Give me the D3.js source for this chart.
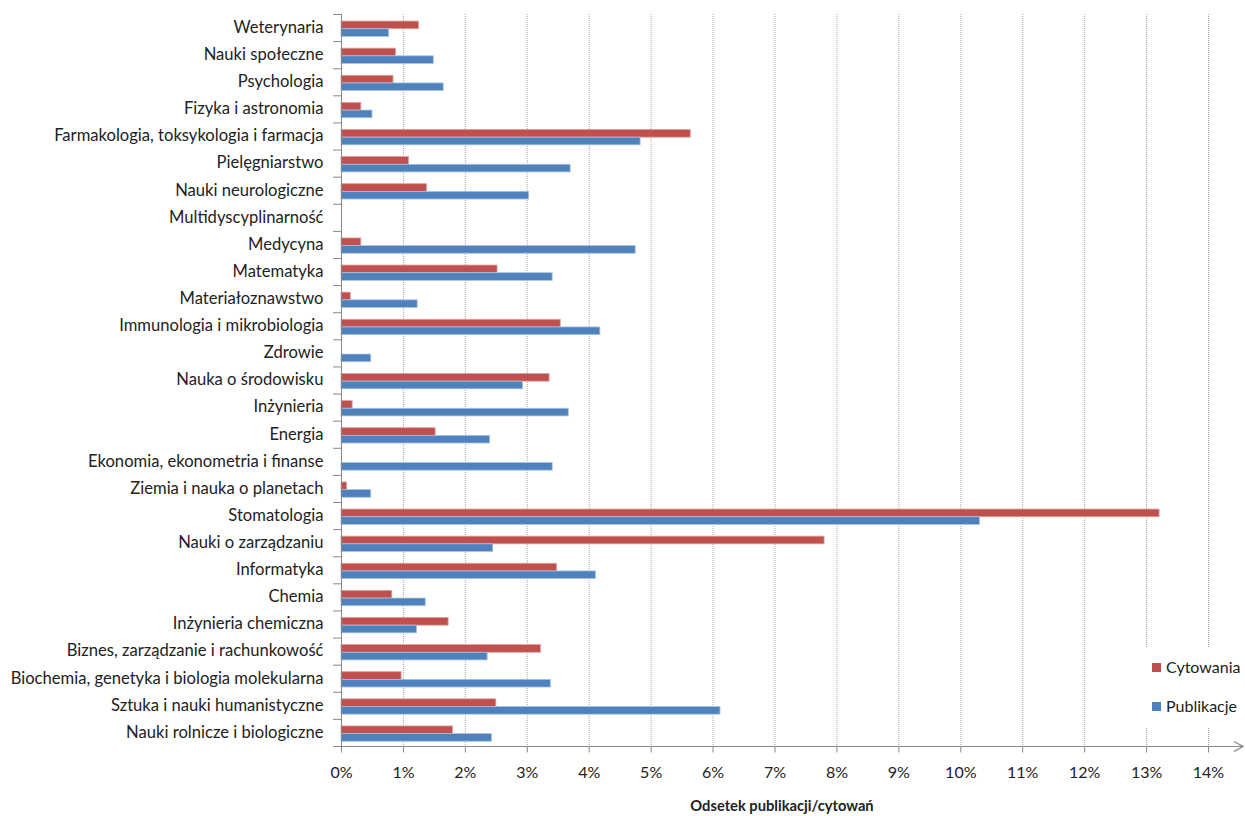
<!DOCTYPE html>
<html>
<head>
<meta charset="utf-8">
<script src="https://cdn.jsdelivr.net/npm/d3@7"></script>
<style>
  html, body { margin: 0; padding: 0; background: #fff; }
  svg { display: block; }
  text { font-family: Lato, "Open Sans", sans-serif; fill: #222; }
</style>
</head>
<body>
<svg id="chart" width="1245" height="816"></svg>
<script>
// Dziedziny nauki, od góry do dołu
const categories = [
  "Weterynaria",
  "Nauki społeczne",
  "Psychologia",
  "Fizyka i astronomia",
  "Farmakologia, toksykologia i farmacja",
  "Pielęgniarstwo",
  "Nauki neurologiczne",
  "Multidyscyplinarność",
  "Medycyna",
  "Matematyka",
  "Materiałoznawstwo",
  "Immunologia i mikrobiologia",
  "Zdrowie",
  "Nauka o środowisku",
  "Inżynieria",
  "Energia",
  "Ekonomia, ekonometria i finanse",
  "Ziemia i nauka o planetach",
  "Stomatologia",
  "Nauki o zarządzaniu",
  "Informatyka",
  "Chemia",
  "Inżynieria chemiczna",
  "Biznes, zarządzanie i rachunkowość",
  "Biochemia, genetyka i biologia molekularna",
  "Sztuka i nauki humanistyczne",
  "Nauki rolnicze i biologiczne"
];

// Odsetek cytowań (%)
const cytowania = [
  1.25, 0.88, 0.84, 0.32, 5.64, 1.09, 1.38, 0, 0.32, 2.52,
  0.15, 3.54, 0, 3.36, 0.18, 1.52, 0, 0.09, 13.21, 7.80,
  3.48, 0.82, 1.73, 3.22, 0.97, 2.50, 1.80
];

// Odsetek publikacji (%)
const publikacje = [
  0.77, 1.49, 1.65, 0.50, 4.83, 3.70, 3.03, 0, 4.75, 3.41,
  1.23, 4.18, 0.48, 2.93, 3.67, 2.40, 3.41, 0.48, 10.31, 2.45,
  4.11, 1.36, 1.22, 2.36, 3.38, 6.12, 2.43
];

const xTicks = d3.range(0, 15);
const seriesNames = ["Cytowania", "Publikacje"];
const seriesColors = ["#C0504D", "#4F81BD"];
const seriesStrokes = ["#DDA09E", "#A9C2E0"];

const svg = d3.select("#chart");
const plot = { left: 341, right: 1208, top: 14, bottom: 746 };

const x = d3.scaleLinear().domain([0, 14]).range([plot.left, plot.right]);
const y = d3.scaleBand().domain(categories).range([plot.top, plot.bottom]).paddingInner(0).paddingOuter(0);
const inner = d3.scaleBand().domain(seriesNames)
  .range([y.bandwidth() * 0.26, y.bandwidth() * 0.825]).paddingInner(0);

// Siatka pionowa (kropkowana)
svg.append("g")
  .selectAll("line")
  .data(xTicks.slice(1))
  .join("line")
  .attr("x1", d => x(d) + 0.5).attr("x2", d => x(d) + 0.5)
  .attr("y1", plot.top).attr("y2", plot.bottom)
  .attr("stroke", "#a6a6a6")
  .attr("stroke-width", 1)
  .attr("stroke-dasharray", "1,1");

// Słupki
const groups = svg.append("g")
  .selectAll("g")
  .data(categories.map((c, i) => ({ c, vals: [cytowania[i], publikacje[i]] })))
  .join("g")
  .attr("transform", d => `translate(0,${y(d.c)})`);

groups.selectAll("rect")
  .data(d => d.vals.map((v, k) => ({ v, k })).filter(e => e.v > 0))
  .join("rect")
  .attr("x", x(0))
  .attr("y", e => inner(seriesNames[e.k]))
  .attr("width", e => x(e.v) - x(0))
  .attr("height", inner.bandwidth())
  .attr("fill", e => seriesColors[e.k])
  .attr("stroke", e => seriesStrokes[e.k])
  .attr("stroke-width", 0.8);

// Oś Y z etykietami
const yAxis = d3.axisLeft(y).tickSize(0).tickPadding(18);
const gy = svg.append("g").attr("transform", `translate(${plot.left + 0.5},0)`).call(yAxis);
gy.select(".domain").attr("stroke", "#888").attr("d", `M0,${plot.top}V${plot.bottom + 6}`);
gy.selectAll("text").style("font-size", "16.6px").attr("fill", "#222");

// Znaczniki na osi Y na granicach kategorii
svg.append("g")
  .selectAll("line")
  .data(d3.range(categories.length + 1))
  .join("line")
  .attr("x1", plot.left - 8).attr("x2", plot.left)
  .attr("y1", i => plot.top + i * y.step() + 0.5)
  .attr("y2", i => plot.top + i * y.step() + 0.5)
  .attr("stroke", "#888");

// Oś X
const xAxis = d3.axisBottom(x).tickValues(xTicks).tickSize(6).tickPadding(14)
  .tickFormat(d => d + "%");
const gx = svg.append("g").attr("transform", `translate(0,${plot.bottom + 0.5})`).call(xAxis);
gx.select(".domain").attr("stroke", "#888").attr("d", `M${plot.left - 8},0H1243`);
gx.selectAll(".tick line").attr("stroke", "#888");
gx.selectAll("text").style("font-size", "16px").attr("fill", "#222");

// Grot strzałki na końcu osi X
svg.append("path")
  .attr("d", `M1234,${plot.bottom - 4.5}L1243,${plot.bottom + 0.5}L1234,${plot.bottom + 5.5}`)
  .attr("fill", "none").attr("stroke", "#888").attr("stroke-width", 1.4);

// Tytuł osi X
svg.append("text")
  .attr("x", 782).attr("y", 811)
  .attr("text-anchor", "middle")
  .style("font-size", "14.7px").style("font-weight", "bold")
  .text("Odsetek publikacji/cytowań");

// Legenda
const legend = svg.append("g");
legend.append("rect")
  .attr("x", 1140).attr("y", 648).attr("width", 105).attr("height", 79)
  .attr("fill", "#fff");
seriesNames.forEach((name, k) => {
  const ly = 663 + k * 39;
  legend.append("rect")
    .attr("x", 1152).attr("y", ly).attr("width", 9).attr("height", 9)
    .attr("fill", seriesColors[k]);
  legend.append("text")
    .attr("x", 1166).attr("y", ly + 10)
    .style("font-size", "16px")
    .text(name);
});
</script>
</body>
</html>
